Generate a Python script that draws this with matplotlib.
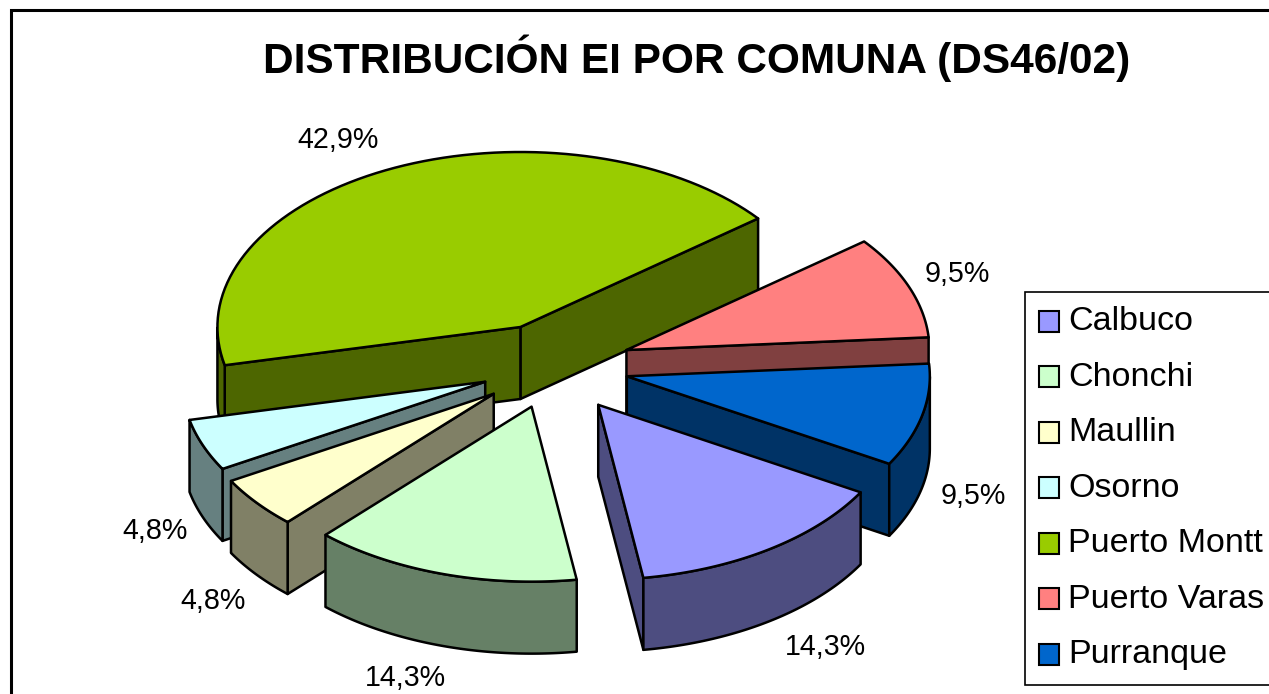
"""Exploded pseudo-3D pie of EI distribution per comuna."""

import matplotlib

matplotlib.use("Agg")

import matplotlib.pyplot as plt
import numpy as np
from matplotlib.legend_handler import HandlerPatch
from matplotlib.patches import Patch, Polygon, Rectangle

plt.rcParams["font.family"] = ["Liberation Sans", "DejaVu Sans"]

TITLE = "DISTRIBUCIÓN EI POR COMUNA (DS46/02)"
comunas = ["Calbuco", "Chonchi", "Maullin", "Osorno", "Puerto Montt", "Puerto Varas", "Purranque"]
percents = [14.3, 14.3, 4.8, 4.8, 42.9, 9.5, 9.5]
labels = ["14,3%", "14,3%", "4,8%", "4,8%", "42,9%", "9,5%", "9,5%"]
top_colors = ["#9999FF", "#CCFFCC", "#FFFFCC", "#CCFFFF", "#99CC00", "#FF8080", "#0066CC"]
side_colors = ["#4D4D80", "#668066", "#808066", "#668080", "#4D6600", "#804040", "#003366"]
explode = [0.265, 0.24, 0.25, 0.24, 0.25, 0.26, 0.25]
label_xy = [(825, 647), (405, 678), (213, 601), (155, 531), (338, 140), (957, 274), (973, 496)]
draw_order = [4, 5, 3, 2, 6, 1, 0]

# pie layout in pixels
CENTER = (553, 366.5)
RX, RY = 303, 175
DEPTH = 72
FIRST_ANGLE = -30.0
EDGE = 1.8


def arc(apex, start, stop):
    angles = np.radians(np.linspace(start, stop, 80))
    return np.column_stack([apex[0] + RX * np.cos(angles), apex[1] - RY * np.sin(angles)])


def draw_face(ax, apex, angle, color, z):
    rim = arc(apex, angle, angle)[0]
    corners = [apex, rim, (rim[0], rim[1] + DEPTH), (apex[0], apex[1] + DEPTH)]
    ax.add_patch(Polygon(corners, facecolor=color, edgecolor="black", lw=EDGE, joinstyle="round", zorder=z))


def draw_slice(ax, index, low, high, z):
    mid = np.radians((low + high) / 2)
    apex = (
        CENTER[0] + explode[index] * RX * np.cos(mid),
        CENTER[1] - explode[index] * RY * np.sin(mid),
    )
    side = side_colors[index]

    # only the cut faces turned toward the viewer are drawn
    if np.cos(np.radians(low)) > 0:
        draw_face(ax, apex, low, side, z)
    if np.cos(np.radians(high)) < 0:
        draw_face(ax, apex, high, side, z)

    # outer rim, front half only
    front = [a for a in np.linspace(low, high, 200) if np.sin(np.radians(a)) <= 0]
    if front:
        upper = arc(apex, front[0], front[-1])
        lower = upper + [0, DEPTH]
        ax.add_patch(Polygon(np.vstack([upper, lower[::-1]]), facecolor=side, edgecolor="black",
                             lw=EDGE, joinstyle="round", zorder=z + 0.1))

    outline = np.vstack([[apex], arc(apex, low, high)])
    ax.add_patch(Polygon(outline, facecolor=top_colors[index], edgecolor="black", lw=EDGE,
                         joinstyle="round", zorder=z + 0.2))


def lowered_key(legend, orig_handle, xdescent, ydescent, width, height, fontsize):
    # legend keys sit a little below the text baseline centre
    return Rectangle((-xdescent, -ydescent - 2.2), width, height)


fig = plt.figure(figsize=(12.69, 6.94), dpi=100)
ax = fig.add_axes([0, 0, 1, 1])
ax.set_xlim(0, 1269)
ax.set_ylim(694, 0)
ax.axis("off")

# chart frame runs off the right and bottom of the picture
ax.add_patch(Rectangle((11, 10), 1300, 720, facecolor="white", edgecolor="black", lw=2.2, zorder=0))

ax.text(697, 58, TITLE, fontsize=30.5, fontweight="bold", ha="center", va="center")

sweeps = np.array(percents) / sum(percents) * 360
highs = FIRST_ANGLE - np.concatenate([[0], np.cumsum(sweeps)[:-1]])
lows = highs - sweeps

for z, i in enumerate(draw_order, start=1):
    draw_slice(ax, i, lows[i], highs[i], z)

for text, (x, y) in zip(labels, label_xy):
    ax.text(x, y, text, fontsize=20.6, ha="center", va="center", zorder=20)

handles = [Patch(facecolor=c, edgecolor="black", lw=1.5) for c in top_colors]
legend = ax.legend(
    handles,
    comunas,
    handler_map={Patch: HandlerPatch(patch_func=lowered_key)},
    loc="upper left",
    bbox_to_anchor=(1025, 292),
    bbox_transform=ax.transData,
    fontsize=24.5,
    frameon=True,
    fancybox=False,
    framealpha=1,
    edgecolor="black",
    borderaxespad=0,
    borderpad=0.42,
    handlelength=0.58,
    handleheight=0.58,
    handletextpad=0.26,
    labelspacing=0.72,
)
legend.get_frame().set_linewidth(1.2)
legend.set_zorder(30)

fig.savefig("out.png", dpi=100)
plt.close(fig)
